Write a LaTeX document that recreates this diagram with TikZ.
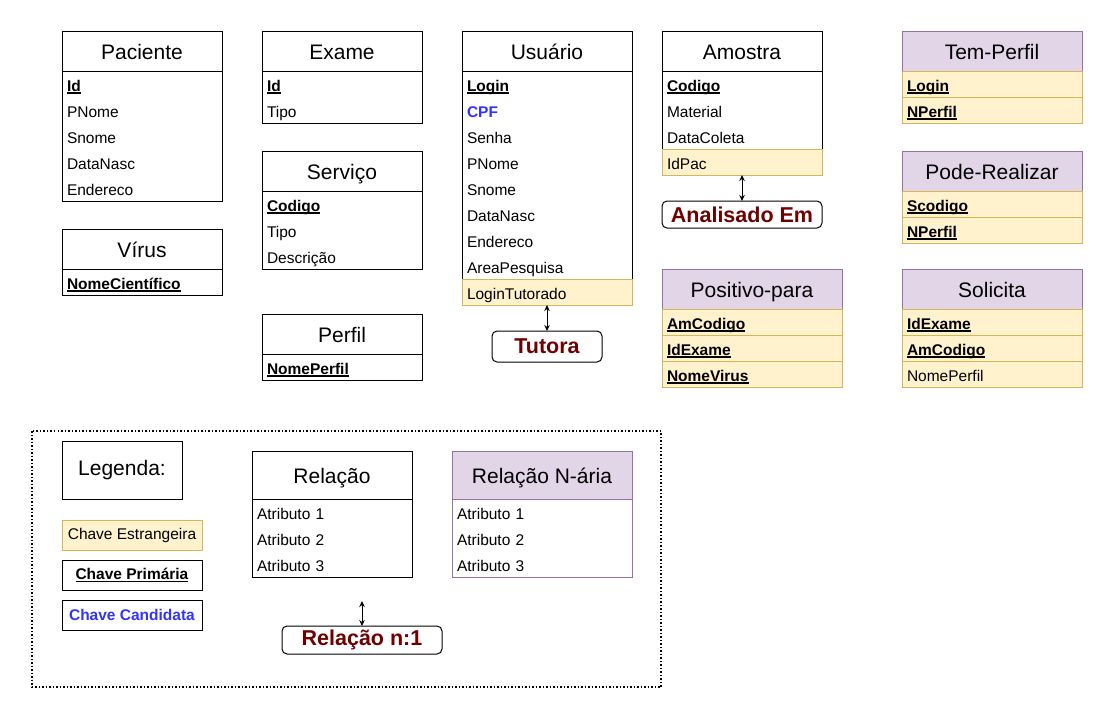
\documentclass[tikz,border=0pt]{standalone}
\usepackage{fontspec}
\setmainfont{Liberation Sans}
\usetikzlibrary{positioning,arrows.meta}
\definecolor{fkfill}{HTML}{FFF2CC}
\definecolor{fkdraw}{HTML}{D6B656}
\definecolor{relfill}{HTML}{E1D5E7}
\definecolor{reldraw}{HTML}{9673A6}
\definecolor{lblred}{HTML}{6F0000}
\definecolor{ckblue}{HTML}{3333FF}
\newcommand{\pkey}[1]{\setbox0\hbox{\textbf{#1}}\rlap{\rule[-2pt]{\wd0}{1.1pt}}\box0}
\newcommand{\ckey}[1]{\textcolor{ckblue}{\textbf{#1}}}

\begin{document}
\begin{tikzpicture}[x=1pt,y=-1pt,
    every node/.style={outer sep=0pt},
    tabhead/.style={draw, line width=1pt, minimum width=#1, minimum height=40pt,
      anchor=north west, inner sep=0pt, text height=19pt, text depth=2pt,
      font=\fontsize{21}{25}\selectfont},
    nhead/.style={tabhead=#1, draw=reldraw, fill=relfill},
    tabrow/.style={text width=#1, inner xsep=5pt, inner ysep=0pt, minimum height=26pt,
      text height=17pt, text depth=2pt, align=left, font=\fontsize{15.5}{18}\selectfont},
    fkrow/.style={tabrow=#1, draw=fkdraw, fill=fkfill, line width=1pt},
    lbl/.style={draw, line width=1pt, rounded corners=5pt, anchor=north west, inner sep=0pt,
      text=lblred, font=\fontsize{21.5}{25}\selectfont\bfseries},
    keybox/.style={draw, line width=1pt, minimum width=140pt, minimum height=30pt,
      anchor=north west, inner sep=0pt, font=\fontsize{15.5}{18}\selectfont},
    dblarrow/.style={{Stealth[length=6pt,width=5.5pt]}-{Stealth[length=6pt,width=5.5pt]}, line width=1pt}]

  \useasboundingbox (0,0) rectangle (1112,718);

  % Paciente
  \node[tabhead=160pt] (pac) at (62,31) {Paciente};
  \node[tabrow=150pt, below=0pt of pac] (pac1) {\pkey{Id}};
  \node[tabrow=150pt, below=0pt of pac1] (pac2) {PNome};
  \node[tabrow=150pt, below=0pt of pac2] (pac3) {Snome};
  \node[tabrow=150pt, below=0pt of pac3] (pac4) {DataNasc};
  \node[tabrow=150pt, below=0pt of pac4] (pac5) {Endereco};
  \draw[line width=1pt] (pac.north west) rectangle (pac5.south east);

  % Virus
  \node[tabhead=160pt] (vir) at (62,229) {Vírus};
  \node[tabrow=150pt, below=0pt of vir] (vir1) {\pkey{NomeCientífico}};
  \draw[line width=1pt] (vir.north west) rectangle (vir1.south east);

  % Exame
  \node[tabhead=160pt] (exa) at (262,31) {Exame};
  \node[tabrow=150pt, below=0pt of exa] (exa1) {\pkey{Id}};
  \node[tabrow=150pt, below=0pt of exa1] (exa2) {Tipo};
  \draw[line width=1pt] (exa.north west) rectangle (exa2.south east);

  % Servico
  \node[tabhead=160pt] (ser) at (262,151) {Serviço};
  \node[tabrow=150pt, below=0pt of ser] (ser1) {\pkey{Codigo}};
  \node[tabrow=150pt, below=0pt of ser1] (ser2) {Tipo};
  \node[tabrow=150pt, below=0pt of ser2] (ser3) {Descrição};
  \draw[line width=1pt] (ser.north west) rectangle (ser3.south east);

  % Perfil
  \node[tabhead=160pt] (per) at (262,314) {Perfil};
  \node[tabrow=150pt, below=0pt of per] (per1) {\pkey{NomePerfil}};
  \draw[line width=1pt] (per.north west) rectangle (per1.south east);

  % Usuario
  \node[tabhead=170pt] (usu) at (462,31) {Usuário};
  \node[tabrow=160pt, below=0pt of usu] (usu1) {\pkey{Login}};
  \node[tabrow=160pt, below=0pt of usu1] (usu2) {\ckey{CPF}};
  \node[tabrow=160pt, below=0pt of usu2] (usu3) {Senha};
  \node[tabrow=160pt, below=0pt of usu3] (usu4) {PNome};
  \node[tabrow=160pt, below=0pt of usu4] (usu5) {Snome};
  \node[tabrow=160pt, below=0pt of usu5] (usu6) {DataNasc};
  \node[tabrow=160pt, below=0pt of usu6] (usu7) {Endereco};
  \node[tabrow=160pt, below=0pt of usu7] (usu8) {AreaPesquisa};
  \draw[line width=1pt] (usu.north west) rectangle (usu8.south east);
  \node[fkrow=160pt, below=0pt of usu8] (usu9) {LoginTutorado};

  \node[lbl, minimum width=110pt, minimum height=31pt] (tut) at (492,331) {Tutora};
  \draw[dblarrow] (usu9.south) -- (tut.north);

  % Amostra
  \node[tabhead=160pt] (amo) at (662,31) {Amostra};
  \node[tabrow=150pt, below=0pt of amo] (amo1) {\pkey{Codigo}};
  \node[tabrow=150pt, below=0pt of amo1] (amo2) {Material};
  \node[tabrow=150pt, below=0pt of amo2] (amo3) {DataColeta};
  \draw[line width=1pt] (amo.north west) rectangle (amo3.south east);
  \node[fkrow=150pt, below=0pt of amo3] (amo4) {IdPac};

  \node[lbl, minimum width=160pt, minimum height=27pt] (ana) at (662,201) {Analisado Em};
  \draw[dblarrow] (amo4.south) -- (ana.north);

  % Positivo-para
  \node[nhead=180pt] (pos) at (662,269) {Positivo-para};
  \node[fkrow=170pt, below=0pt of pos] (pos1) {\pkey{AmCodigo}};
  \node[fkrow=170pt, below=0pt of pos1] (pos2) {\pkey{IdExame}};
  \node[fkrow=170pt, below=0pt of pos2] (pos3) {\pkey{NomeVirus}};

  % Tem-Perfil
  \node[nhead=180pt] (tem) at (902,31) {Tem-Perfil};
  \node[fkrow=170pt, below=0pt of tem] (tem1) {\pkey{Login}};
  \node[fkrow=170pt, below=0pt of tem1] (tem2) {\pkey{NPerfil}};

  % Pode-Realizar
  \node[nhead=180pt] (pod) at (902,151) {Pode-Realizar};
  \node[fkrow=170pt, below=0pt of pod] (pod1) {\pkey{Scodigo}};
  \node[fkrow=170pt, below=0pt of pod1] (pod2) {\pkey{NPerfil}};

  % Solicita
  \node[nhead=180pt] (sol) at (902,269) {Solicita};
  \node[fkrow=170pt, below=0pt of sol] (sol1) {\pkey{IdExame}};
  \node[fkrow=170pt, below=0pt of sol1] (sol2) {\pkey{AmCodigo}};
  \node[fkrow=170pt, below=0pt of sol2] (sol3) {NomePerfil};

  % Legenda
  \draw[dotted, line width=1.5pt] (32,431) rectangle (661,687);
  \node[draw, line width=1pt, minimum width=120pt, minimum height=58pt, anchor=north west,
    inner sep=0pt, font=\fontsize{21}{25}\selectfont] (leg) at (62,441) {Legenda:};
  \node[keybox, draw=fkdraw, fill=fkfill] (fk) at (62,520) {Chave Estrangeira};
  \node[keybox] (pk) at (62,560) {\pkey{Chave Primária}};
  \node[keybox] (ck) at (62,600) {\ckey{Chave Candidata}};

  \node[tabhead=160pt, minimum height=48pt] (rel) at (252,451) {Relação};
  \node[tabrow=150pt, below=0pt of rel] (rel1) {Atributo 1};
  \node[tabrow=150pt, below=0pt of rel1] (rel2) {Atributo 2};
  \node[tabrow=150pt, below=0pt of rel2] (rel3) {Atributo 3};
  \draw[line width=1pt] (rel.north west) rectangle (rel3.south east);

  \node[nhead=180pt, minimum height=48pt] (nar) at (452,451) {Relação N-ária};
  \node[tabrow=170pt, below=0pt of nar] (nar1) {Atributo 1};
  \node[tabrow=170pt, below=0pt of nar1] (nar2) {Atributo 2};
  \node[tabrow=170pt, below=0pt of nar2] (nar3) {Atributo 3};
  \draw[line width=1pt, reldraw] (nar.north west) rectangle (nar3.south east);

  \coordinate (n1top) at (362,601);
  \node[lbl, minimum width=160pt, minimum height=28pt] (n1) at (282,626) {Relação n:1};
  \draw[dblarrow] (n1top) -- (n1.north);

\end{tikzpicture}
\end{document}
